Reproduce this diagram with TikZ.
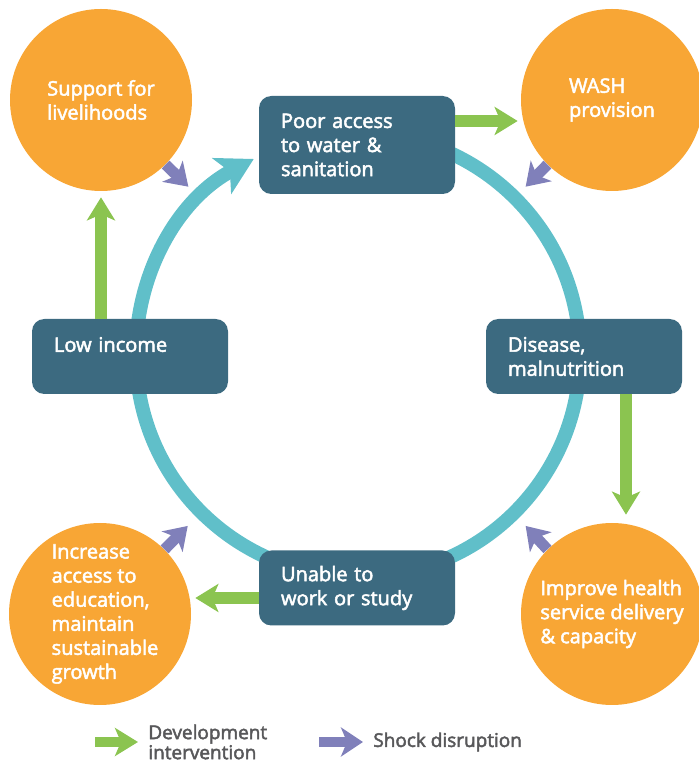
\documentclass[tikz,border=0pt]{standalone}
\usepackage{fontspec}
\setmainfont{Open Sans}[FakeBold=2.5]
\usetikzlibrary{arrows.meta,positioning,calc}
\definecolor{cyorange}{RGB}{248,166,53}
\definecolor{cynavy}{RGB}{60,106,128}
\definecolor{cyteal}{RGB}{96,191,201}
\definecolor{cygreen}{RGB}{139,196,80}
\definecolor{cypurple}{RGB}{128,128,186}
\definecolor{cygrey}{RGB}{88,88,90}
\tikzset{
    stage/.style={
        fill=cynavy,rounded corners=7pt,text=white,align=left,
        text width=3.04cm,inner xsep=0.44cm,minimum height=1.5cm,
        font=\fontsize{11.4}{13.7}\selectfont
    },
    remedy/.style={
        circle,fill=cyorange,text=white,align=left,
        minimum size=3.64cm,inner sep=0pt,
        font=\fontsize{11.4}{13.7}\selectfont
    },
    devarrow/.style={
        -{Stealth[width=0.56cm,length=0.46cm,inset=0.12cm]},line width=0.23cm,draw=cygreen
    },
    shockarrow/.style={
        -{Stealth[width=0.58cm,length=0.44cm,inset=0.12cm]},line width=0.22cm,draw=cypurple
    },
    ring/.style={
        -{Stealth[width=0.8cm,length=0.72cm,inset=0.18cm]},line width=0.28cm,draw=cyteal
    },
    keytext/.style={
        anchor=west,align=left,text=cygrey,inner sep=0pt,
        font=\fontsize{10.8}{11.4}\selectfont
    }
}

\begin{document}
\begin{tikzpicture}
\useasboundingbox (0,0) rectangle (13.96,15.3);

% the cycle itself, drawn first so the boxes sit on it
\coordinate (hub) at (7.16,8.2);
\draw[ring] ([shift={(100:4.44)}]hub) arc[start angle=100,end angle=-242,radius=4.44];

\node[stage,minimum height=1.96cm] (poor) at (7.14,12.4)
{Poor access\\to water \&\\sanitation};
\node[stage] (low) at (2.6,8.17) {Low income\\ \mbox{}};
\node[stage] (disease) at (11.68,8.17) {Disease,\\malnutrition};
\node[stage] (unable) at (7.14,3.54) {Unable to\\work or study};

\node[remedy] (liveli) at (2.02,13.3) {Support for\\livelihoods};
\node[remedy] (wash) at (12.24,13.3) {WASH\\provision};
\node[remedy] (health) at (12.24,3.02)
{Improve health\\service delivery\\\& capacity};
\node[remedy] (educ) at (2.0,3.02)
{\hspace*{0.2cm}Increase\\\hspace*{0.2cm}access to\\\hspace*{0.2cm}education,\\
\hspace*{0.2cm}maintain\\\hspace*{0.2cm}sustainable\\\hspace*{0.2cm}growth};

% interventions
\draw[devarrow,shorten >=0.12cm] (low.north -| liveli) -- (liveli.south);
\draw[devarrow,shorten >=0.06cm] ([yshift=0.48cm]poor.east) -- ([yshift=0.48cm]poor.east -| wash.west);
\draw[devarrow,shorten >=0.16cm] ([xshift=0.84cm]disease.south) -- ([xshift=0.84cm]disease.south |- health.north);
\draw[devarrow,shorten >=0.08cm] ([yshift=-0.2cm]unable.west) -- ([yshift=-0.2cm]unable.west -| educ.east);

% shocks
\draw[shockarrow] (liveli.-45) -- ($(liveli)!0.34!(hub)$);
\draw[shockarrow] (wash.-135) -- ($(wash)!0.34!(hub)$);
\draw[shockarrow] (health.135) -- ($(health)!0.34!(hub)$);
\draw[shockarrow] (educ.45) -- ($(educ)!0.34!(hub)$);

% key
\coordinate (devtail) at (1.9,0.46);
\node[keytext] (devkey) at (2.96,0.46) {Development\\intervention};
\draw[devarrow,line width=0.2cm] (devtail) -- ([xshift=-0.2cm]devkey.west);
\coordinate (shocktail) at (6.38,0.46);
\node[keytext] (shockkey) at (7.46,0.46) {Shock disruption};
\draw[shockarrow,line width=0.2cm] (shocktail) -- ([xshift=-0.2cm]shockkey.west);

\end{tikzpicture}
\end{document}
